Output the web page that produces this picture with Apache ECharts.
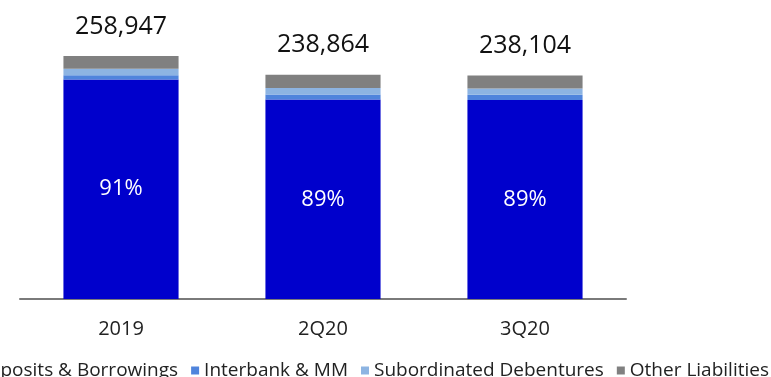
<!DOCTYPE html>
<html>
<head>
<meta charset="utf-8">
<script src="https://cdn.jsdelivr.net/npm/echarts@6/dist/echarts.min.js"></script>
<style>html,body{margin:0;padding:0;background:#fff}#c{width:771px;height:377px}</style>
</head>
<body>
<div id="c"></div>
<script>
const categories = ['2019', '2Q20', '3Q20'];
const deposits = [234000, 212600, 212000];
const interbank = [4500, 5300, 5800];
const subordinated = [7000, 7100, 6500];
const other = [13447, 13864, 13804];
const totals = [258947, 238864, 238104];
const shares = ['91%', '89%', '89%'];
const seriesNames = ['Deposits & Borrowings', 'Interbank & MM', 'Subordinated Debentures', 'Other Liabilities'];

const FONT = 'Open Sans';
const chart = echarts.init(document.getElementById('c'));
chart.setOption({
  animation: false,
  grid: { left: 20, right: 145, top: 17.5, bottom: 78 },
  legend: {
    left: -42, top: 356, width: 1100, orient: 'horizontal',
    itemWidth: 8, itemHeight: 8, itemGap: 13,
    icon: 'rect',
    textStyle: { fontFamily: FONT, fontSize: 19, color: '#222' },
    data: seriesNames
  },
  xAxis: {
    type: 'category', data: categories,
    axisLine: { lineStyle: { color: '#7a7a7a', width: 2 } },
    axisTick: { show: false },
    axisLabel: { fontFamily: FONT, fontSize: 20, color: '#222', margin: 20 }
  },
  yAxis: { type: 'value', min: 0, max: 300000, show: false, splitLine: { show: false } },
  series: [
    { name: seriesNames[0], type: 'bar', stack: 't', data: deposits, barWidth: '57%',
      itemStyle: { color: '#0000CC' },
      label: { show: true, position: 'inside', fontFamily: FONT, fontSize: 22, color: '#fff',
        formatter: p => shares[p.dataIndex] } },
    { name: seriesNames[1], type: 'bar', stack: 't', data: interbank, itemStyle: { color: '#4F84DC' } },
    { name: seriesNames[2], type: 'bar', stack: 't', data: subordinated, itemStyle: { color: '#8DB4E2' } },
    { name: seriesNames[3], type: 'bar', stack: 't', data: other, itemStyle: { color: '#808080' },
      label: { show: true, position: 'top', distance: 17, fontFamily: FONT, fontSize: 25, color: '#111',
        formatter: p => totals[p.dataIndex].toLocaleString('en-US') } }
  ]
});
</script>
</body>
</html>
